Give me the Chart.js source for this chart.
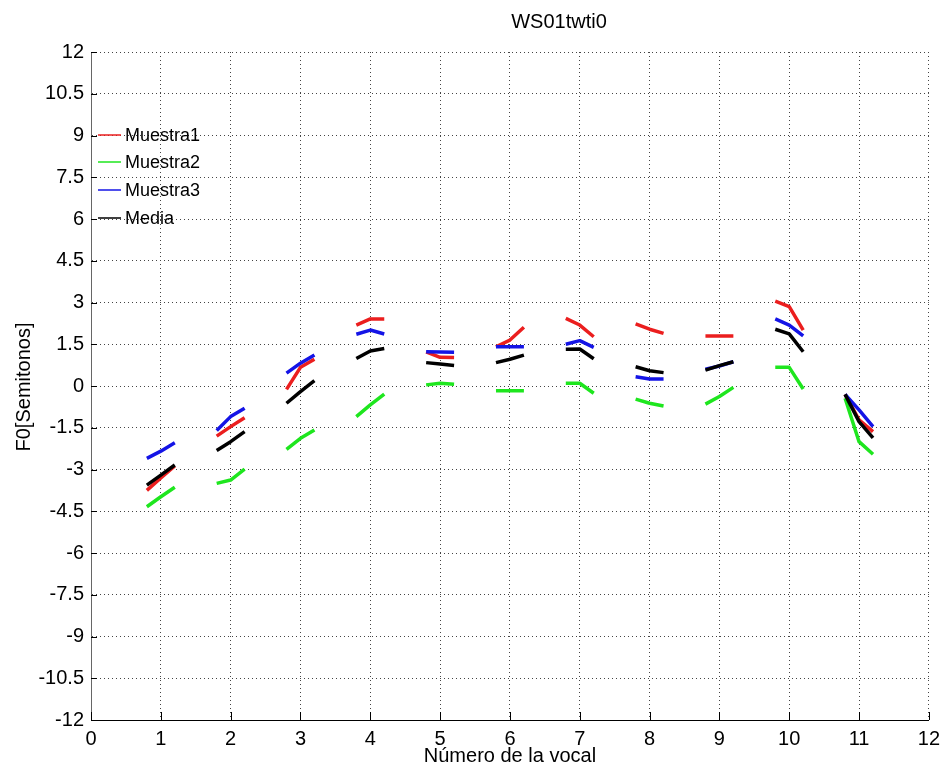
<!DOCTYPE html>
<html>
<head>
<meta charset="utf-8">
<script src="https://cdn.jsdelivr.net/npm/chart.js@4.4.0/dist/chart.umd.min.js"></script>
<style>
  html, body { margin: 0; padding: 0; background: #fff; }
</style>
</head>
<body>
<canvas id="grafico" width="947" height="767"></canvas>
<script>
// Datos: cada vocal tiene 3 puntos (inicio, centro, fin)
const vocales = [1, 2, 3, 4, 5, 6, 7, 8, 9, 10, 11];
const desplaz = [-0.2, 0, 0.2];

const muestra1 = [
    [-3.75, -3.30, -2.87], [-1.80, -1.46, -1.14], [-0.12, 0.67, 0.96], [2.19, 2.41, 2.41],
    [1.23, 1.03, 1.02], [1.41, 1.65, 2.11], [2.43, 2.19, 1.77], [2.23, 2.04, 1.89],
    [1.80, 1.80, 1.80], [3.05, 2.85, 2.01], [-0.30, -1.22, -1.64]
];
const muestra2 = [
    [-4.34, -3.98, -3.64], [-3.50, -3.38, -2.99], [-2.28, -1.88, -1.58], [-1.10, -0.68, -0.29],
    [0.04, 0.10, 0.06], [-0.17, -0.17, -0.17], [0.10, 0.10, -0.26], [-0.47, -0.62, -0.72],
    [-0.65, -0.38, -0.05], [0.67, 0.67, -0.11], [-0.44, -2.00, -2.45]
];
const muestra3 = [
    [-2.60, -2.34, -2.04], [-1.60, -1.10, -0.80], [0.46, 0.82, 1.11], [1.86, 2.01, 1.87],
    [1.23, 1.22, 1.21], [1.41, 1.41, 1.41], [1.50, 1.63, 1.39], [0.33, 0.25, 0.25],
    [0.60, 0.72, 0.87], [2.41, 2.19, 1.80], [-0.30, -0.86, -1.46]
];
const media = [
    [-3.56, -3.20, -2.84], [-2.32, -2.00, -1.64], [-0.62, -0.20, 0.19], [0.99, 1.26, 1.35],
    [0.84, 0.79, 0.74], [0.84, 0.96, 1.11], [1.32, 1.33, 0.98], [0.69, 0.55, 0.48],
    [0.57, 0.73, 0.87], [2.04, 1.87, 1.23], [-0.30, -1.28, -1.86]
];

const titulo = 'WS01twti0';
const etiquetaX = 'Número de la vocal';
const etiquetaY = 'F0[Semitonos]';

const FUENTE = '"Liberation Sans", Arial, sans-serif';

// Convierte una serie a puntos {x,y} con cortes entre vocales
function aPuntos(serie) {
    const pts = [];
    serie.forEach((vals, i) => {
        vals.forEach((v, j) => pts.push({ x: vocales[i] + desplaz[j], y: v }));
        pts.push({ x: vocales[i] + 0.5, y: null });
    });
    return pts;
}

function dataset(label, serie, color, orden) {
    return {
        label: label,
        data: aPuntos(serie),
        borderColor: color,
        backgroundColor: color,
        borderWidth: 3.5,
        pointRadius: 0,
        tension: 0,
        spanGaps: false,
        borderJoinStyle: 'round',
        order: orden
    };
}

// Titulo, etiquetas de ejes, marcas hacia dentro y leyenda
const extrasPlugin = {
    id: 'extras',
    afterDraw(chart) {
        const ctx = chart.ctx;
        const area = chart.chartArea;
        const sx = chart.scales.x;
        const sy = chart.scales.y;
        ctx.save();

        // marcas de los ejes (hacia dentro, estilo matlab)
        ctx.strokeStyle = '#000';
        ctx.lineWidth = 1;
        ctx.beginPath();
        sx.ticks.forEach(t => {
            const px = Math.round(sx.getPixelForValue(t.value)) + 0.5;
            ctx.moveTo(px, area.bottom);
            ctx.lineTo(px, area.bottom - 8);
        });
        sy.ticks.forEach(t => {
            const py = Math.round(sy.getPixelForValue(t.value)) + 0.5;
            ctx.moveTo(area.left, py);
            ctx.lineTo(area.left + 6, py);
        });
        ctx.stroke();

        ctx.fillStyle = '#000';
        ctx.textAlign = 'center';
        ctx.textBaseline = 'middle';
        ctx.font = '20px ' + FUENTE;
        ctx.fillText(titulo, 559, 22);
        ctx.fillText(etiquetaX, (area.left + area.right) / 2, 756);

        ctx.translate(24, 387);
        ctx.rotate(-Math.PI / 2);
        ctx.fillText(etiquetaY, 0, 0);
        ctx.setTransform(1, 0, 0, 1, 0, 0);

        // leyenda
        const filasY = [135, 162, 190, 218];
        ctx.font = '18px ' + FUENTE;
        ctx.textAlign = 'left';
        chart.data.datasets.forEach((ds, i) => {
            ctx.strokeStyle = ds.borderColor;
            ctx.lineWidth = 1.5;
            ctx.beginPath();
            ctx.moveTo(98, filasY[i]);
            ctx.lineTo(121, filasY[i]);
            ctx.stroke();
            ctx.fillStyle = '#000';
            ctx.fillText(ds.label, 125, filasY[i] + 1);
        });
        ctx.restore();
    }
};

const grid = {
    color: '#444',
    drawTicks: false,
    lineWidth: 1
};

new Chart(document.getElementById('grafico'), {
    type: 'line',
    data: {
        datasets: [
            dataset('Muestra1', muestra1, 'rgb(235,30,30)', 4),
            dataset('Muestra2', muestra2, 'rgb(30,230,30)', 3),
            dataset('Muestra3', muestra3, 'rgb(20,20,230)', 2),
            dataset('Media', media, '#000', 1)
        ]
    },
    options: {
        responsive: false,
        animation: false,
        devicePixelRatio: 1,
        layout: { padding: { top: 52, right: 12, bottom: 0, left: 0 } },
        plugins: {
            legend: { display: false },
            tooltip: { enabled: false },
            title: { display: false }
        },
        scales: {
            x: {
                type: 'linear',
                min: 0,
                max: 12,
                afterFit: s => { s.height = 47; },
                grid: grid,
                border: { display: true, color: '#000', width: 1, dash: [1, 3] },
                ticks: {
                    stepSize: 1,
                    padding: 7,
                    color: '#000',
                    font: { family: FUENTE, size: 20 }
                }
            },
            y: {
                min: -12,
                max: 12,
                afterFit: s => { s.width = 91; },
                grid: grid,
                border: { display: true, color: '#666', width: 1, dash: [1, 3] },
                ticks: {
                    stepSize: 1.5,
                    padding: 7,
                    color: '#000',
                    font: { family: FUENTE, size: 20 },
                    callback: v => String(v)
                }
            }
        }
    },
    plugins: [extrasPlugin]
});
</script>
</body>
</html>
